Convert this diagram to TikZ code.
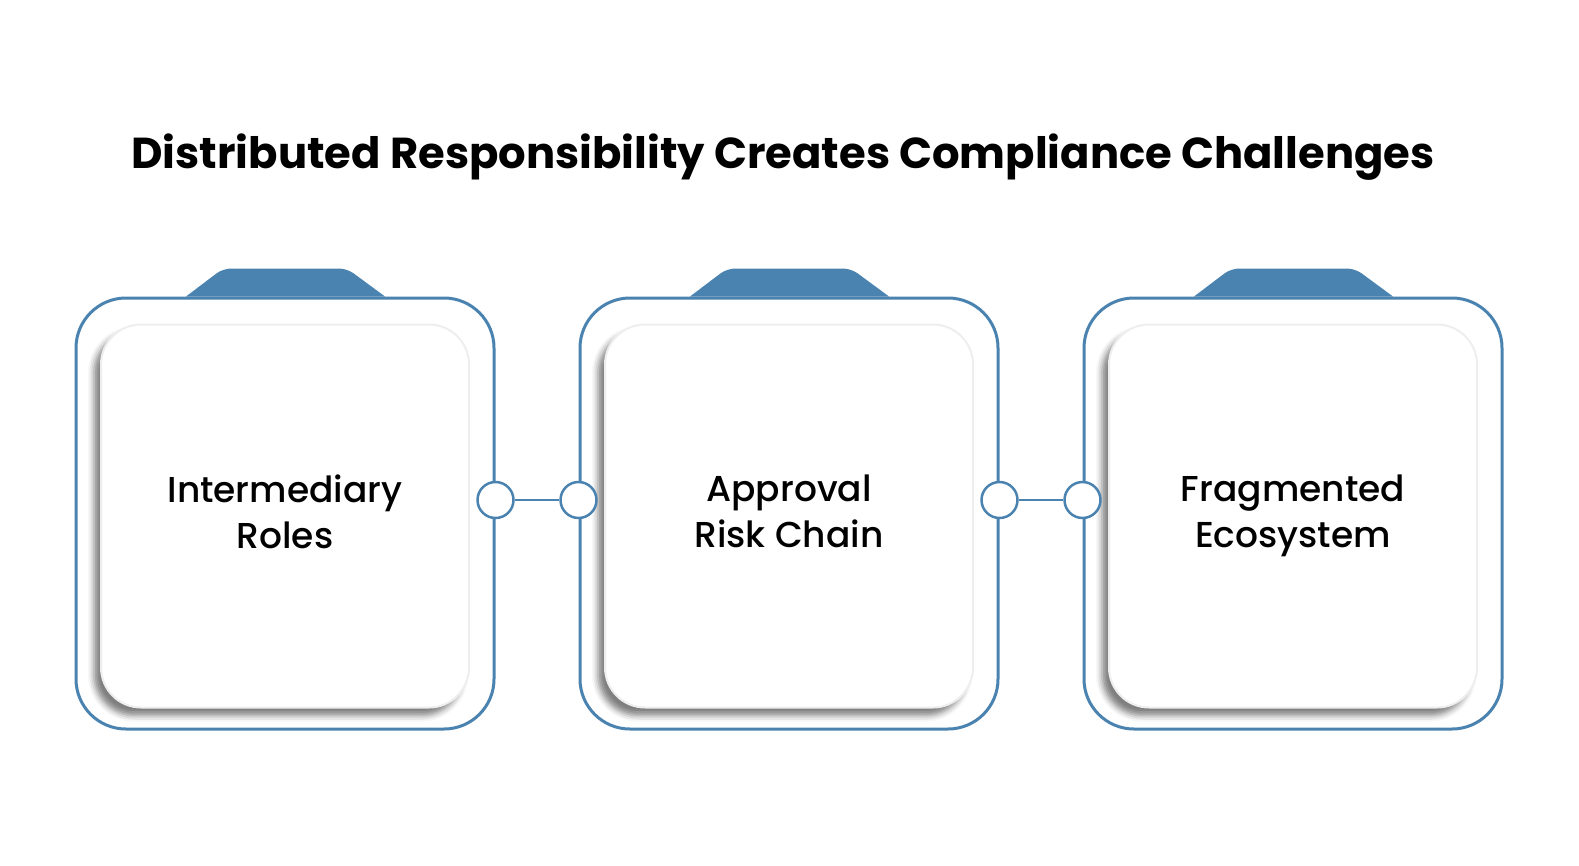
\documentclass[tikz,border=0pt]{standalone}
\usepackage{fontspec}
\setmainfont{Poppins}
\IfFontExistsTF{Poppins Medium}
  {\newfontfamily\cardfont{Poppins Medium}}
  {\newfontfamily\cardfont{Poppins}}
\usetikzlibrary{positioning,shadows.blur}
\definecolor{steel}{HTML}{4A82B0}
\definecolor{cardline}{HTML}{EEEEEE}

\begin{document}
\begin{tikzpicture}[
    x=1pt, y=-1pt,
    frame/.style={
      draw=steel,
      line width=3pt,
      rounded corners=50pt,
      minimum width=418pt,
      minimum height=431pt
    },
    card/.style={
      draw=cardline,
      line width=2pt,
      fill=white,
      rounded corners=40pt,
      minimum width=368pt,
      minimum height=383pt,
      align=center,
      font=\cardfont\fontsize{36}{46}\selectfont,
      blur shadow={shadow xshift=-7pt, shadow yshift=-8pt,
                   shadow blur radius=6pt, shadow opacity=50}
    },
    knob/.style={
      circle,
      draw=steel,
      line width=2.5pt,
      fill=white,
      minimum size=36pt,
      inner sep=0pt
    },
    link/.style={draw=steel, line width=2.5pt}
]
  \useasboundingbox (0,0) rectangle (1579,865);

  % Title
  \node[anchor=base, font=\fontsize{43.3}{52}\selectfont\bfseries] (title) at (783,168)
    {Distributed Responsibility Creates Compliance Challenges};

  % Outer frames
  \node[frame] (frame1) at (285,513.5) {};
  \node[frame] (frame2) at (789,513.5) {};
  \node[frame] (frame3) at (1293,513.5) {};

  % Inner cards
  \node[card] (roles)     at (285,516)  {Intermediary\\Roles\vphantom{y}};
  \node[card] (approval)  at (789,516)  {Approval\\Risk Chain\vphantom{y}};
  \node[card] (ecosystem) at (1293,516) {Fragmented\\Ecosystem\vphantom{y}};

  % Tabs on top of the frames
  \fill[steel] ([xshift=-99pt]frame1.north)
    {[rounded corners=8pt] -- ([xshift=-62pt, yshift=28pt]frame1.north)
    -- ([xshift=62pt, yshift=28pt]frame1.north)} -- ([xshift=100pt]frame1.north) -- cycle;
  \fill[steel] ([xshift=-99pt]frame2.north)
    {[rounded corners=8pt] -- ([xshift=-62pt, yshift=28pt]frame2.north)
    -- ([xshift=62pt, yshift=28pt]frame2.north)} -- ([xshift=100pt]frame2.north) -- cycle;
  \fill[steel] ([xshift=-99pt]frame3.north)
    {[rounded corners=8pt] -- ([xshift=-62pt, yshift=28pt]frame3.north)
    -- ([xshift=62pt, yshift=28pt]frame3.north)} -- ([xshift=100pt]frame3.north) -- cycle;

  % Connector knobs
  \node[knob] (k1r) at ([yshift=13.5pt]frame1.east) {};
  \node[knob] (k2l) at ([yshift=13.5pt]frame2.west) {};
  \node[knob] (k2r) at ([yshift=13.5pt]frame2.east) {};
  \node[knob] (k3l) at ([yshift=13.5pt]frame3.west) {};

  % Links
  \draw[link] (k1r) -- (k2l);
  \draw[link] (k2r) -- (k3l);
\end{tikzpicture}
\end{document}
